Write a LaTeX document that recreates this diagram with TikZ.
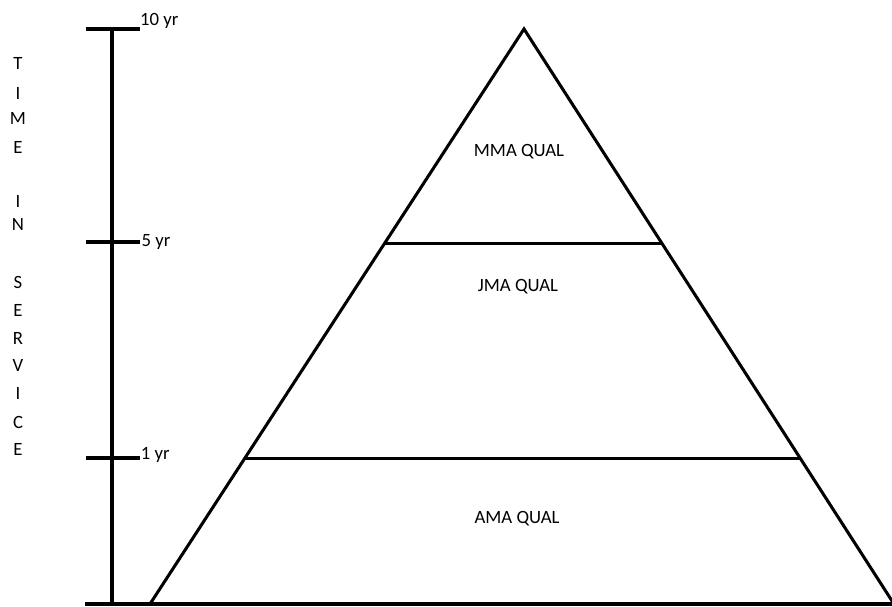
\documentclass[tikz,border=0pt]{standalone}
\usepackage{fontspec}
\setmainfont{Carlito}
\usepackage{tikz}
\usetikzlibrary{calc,positioning}
\tikzset{
  ln/.style={line width=2.6pt},
  lbl/.style={font=\fontsize{16}{18}\selectfont,inner sep=0pt},
  yrlbl/.style={lbl,anchor=west},
}
\begin{document}
\begin{tikzpicture}
\useasboundingbox (0,0) rectangle (26.76,18.18);
% pyramid
\coordinate (top) at (15.72,17.31);
\coordinate (lb) at (4.50,0.06);
\coordinate (rb) at (26.82,0.06);
\coordinate (b0) at (2.55,0.06);
\coordinate (b1) at (26.95,0.06);
\draw[ln] (lb) -- (top) -- (rb);
\draw[ln] (b0) -- (b1);
\coordinate (l5) at ($(top)!0.3726!(lb)$); \coordinate (r5) at ($(top)!0.3726!(rb)$);
\coordinate (l1) at ($(top)!0.747!(lb)$); \coordinate (r1) at ($(top)!0.747!(rb)$);
\draw[ln] (l5) -- (r5);
\draw[ln] (l1) -- (r1);
\node[lbl] (mma) at (15.57,13.62) {MMA QUAL};
\node[lbl] (jma) at (15.54,9.57) {JMA QUAL};
\node[lbl] (ama) at (15.51,2.61) {AMA QUAL};
% time axis
\coordinate (a0) at (3.36,0); \coordinate (a1) at (3.36,17.31);
\draw[ln] (a0) -- (a1);
\foreach \n/\y in {10/17.31,5/10.92,1/4.44} {\coordinate (t\n) at (2.58,\y); \coordinate (e\n) at (4.20,\y); \draw[ln] (t\n) -- (e\n);}
\node[yrlbl] (y10) at (4.20,17.55) {10 yr};
\node[yrlbl] (y5) at (4.24,10.93) {5 yr};
\node[yrlbl] (y1) at (4.22,4.52) {1 yr};
% vertical caption
\foreach \ch/\y [count=\i] in {T/16.29,I/15.39,M/14.64,E/13.77,I/12.15,N/11.46,S/9.72,E/8.88,R/8.04,V/7.23,I/6.39,C/5.52,E/4.71}
  \node[lbl] (v\i) at (0.54,\y) {\ch};
\end{tikzpicture}
\end{document}
